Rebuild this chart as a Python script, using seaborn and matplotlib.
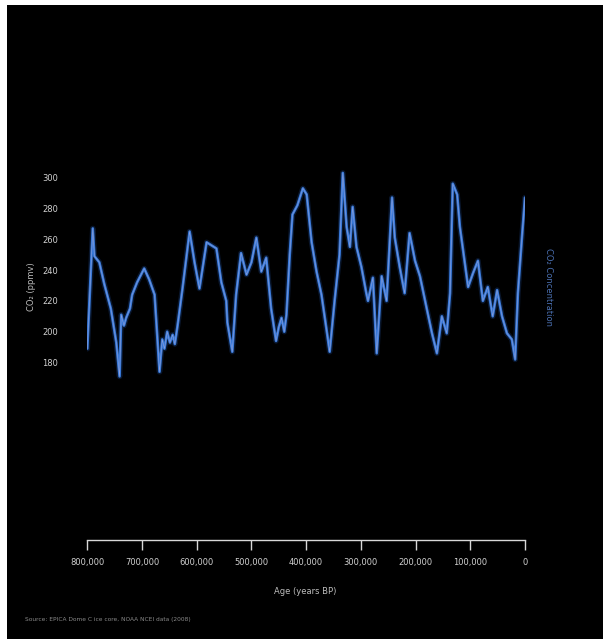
import matplotlib
matplotlib.use("Agg")
import matplotlib.pyplot as plt
import seaborn as sns
import pandas as pd
from matplotlib.patches import Rectangle

# Age in thousands of years BP, CO2 in ppmv
age_kyr = [800, 790, 787, 778, 769, 757, 747, 741, 738, 733, 729, 722, 718, 709, 696,
           687, 677, 668, 663, 659, 654, 649, 644, 640, 635, 626, 613, 604, 595, 582,
           573, 564, 555, 546, 544, 535, 528, 519, 509, 500, 491, 482, 473, 464, 455,
           450, 445, 440, 436, 430, 425, 416, 406, 399, 390, 381, 372, 363, 357, 348,
           339, 333, 326, 320, 315, 308, 299, 290, 287, 278, 271, 262, 253, 243, 238,
           229, 220, 211, 201, 192, 179, 170, 161, 152, 143, 137, 132, 124, 119, 114,
           104, 95, 86, 77, 68, 59, 51, 42, 33, 24, 18, 13, 5, 0]
co2_ppmv = [189, 267, 249, 245, 231, 215, 193, 171, 211, 204, 209, 215, 224, 232, 241,
            234, 224, 174, 195, 189, 200, 193, 198, 192, 204, 228, 265, 245, 228, 258,
            256, 254, 232, 220, 206, 187, 224, 251, 237, 245, 261, 239, 248, 215, 194,
            203, 209, 200, 211, 250, 276, 282, 293, 289, 258, 239, 224, 202, 187, 220,
            250, 303, 268, 255, 281, 255, 242, 225, 220, 235, 186, 236, 220, 287, 261,
            242, 225, 264, 246, 236, 214, 199, 186, 210, 199, 225, 296, 289, 268, 255,
            229, 238, 246, 220, 229, 210, 227, 210, 199, 195, 182, 225, 264, 287]

x_ticks = [800000, 700000, 600000, 500000, 400000, 300000, 200000, 100000, 0]
x_tick_labels = ["800,000", "700,000", "600,000", "500,000", "400,000",
                 "300,000", "200,000", "100,000", "0"]
y_ticks = [180, 200, 220, 240, 260, 280, 300]

df = pd.DataFrame({"age": [a * 1000 for a in age_kyr], "co2": co2_ppmv})

sns.set_theme(style="dark")
W, H = 603, 639
fig = plt.figure(figsize=(W / 100, H / 100), dpi=100, facecolor="black")

# white edge strips seen in the reference
fig.patches.append(Rectangle((0, 0), 6.5 / W, 1, transform=fig.transFigure,
                             facecolor="white", edgecolor="none", zorder=-1))
fig.patches.append(Rectangle((0, 1 - 5 / H), 1, 5 / H, transform=fig.transFigure,
                             facecolor="white", edgecolor="none", zorder=-1))

left, right = 87.3 / W, 525 / W
bottom, top = 1 - 540 / H, 1 - 100 / H
ax = fig.add_axes([left, bottom, right - left, top - bottom])
ax.set_facecolor("black")

# glow layer + main line + pale core
sns.lineplot(data=df, x="age", y="co2", ax=ax, color="#2a66cc", lw=4.0, alpha=0.22,
             sort=False, legend=False)
sns.lineplot(data=df, x="age", y="co2", ax=ax, color="#3a7ee2", lw=1.9, alpha=0.95,
             sort=False, legend=False)
sns.lineplot(data=df, x="age", y="co2", ax=ax, color="#b7b4dc", lw=0.4, alpha=0.7,
             sort=False, legend=False)

ax.set_xlim(800000, 0)
ax.set_ylim(64.9, 350.3)
ax.grid(False)
for s in ["left", "right", "top"]:
    ax.spines[s].set_visible(False)
ax.spines["bottom"].set_visible(True)
ax.spines["bottom"].set_color("#d8d8d8")
ax.spines["bottom"].set_linewidth(1.0)

ax.set_xticks(x_ticks)
ax.set_xticklabels(x_tick_labels)
ax.set_yticks(y_ticks)
ax.set_yticklabels([str(v) for v in y_ticks])
ax.tick_params(axis="x", colors="#d8d8d8", length=7, width=1.0, direction="out",
               pad=6, labelsize=6, labelcolor="#d0d0d0", bottom=True)
ax.tick_params(axis="y", length=0, pad=21, labelsize=6, labelcolor="#d0d0d0")
ax.set_xlabel("")
ax.set_ylabel("")

fig.text(305 / W, 1 - 592 / H, "Age (years BP)", color="#bdbdbd", fontsize=6,
         ha="center", va="center")
fig.text(31 / W, 1 - 287 / H, "CO₂ (ppmv)", color="#bdbdbd", fontsize=6,
         rotation=90, ha="center", va="center")
fig.text(548 / W, 1 - 287 / H, "CO₂ Concentration", color="#4a6fb0", fontsize=6,
         rotation=270, ha="center", va="center")
fig.text(25 / W, 1 - 620 / H, "Source: EPICA Dome C ice core, NOAA NCEI data (2008)",
         color="#8a8a8a", fontsize=4.2, ha="left", va="center")

fig.savefig("out.png", dpi=100, facecolor="black")
